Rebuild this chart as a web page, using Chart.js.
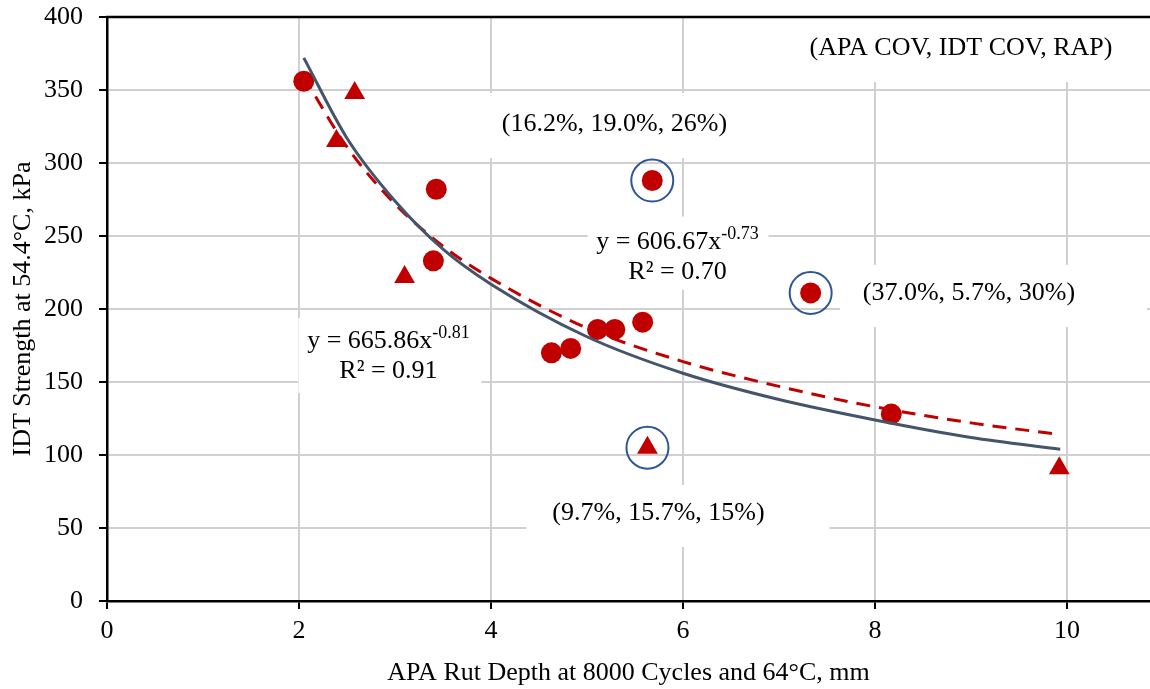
<!DOCTYPE html>
<html>
<head>
<meta charset="utf-8">
<style>
  body { margin: 0; background: #fff; }
  #wrap { width: 1150px; height: 689px; }
</style>
<script src="https://cdn.jsdelivr.net/npm/chart.js@4.4.1/dist/chart.umd.min.js"></script>
</head>
<body>
<div id="wrap"><canvas id="c" width="1150" height="689"></canvas></div>
<script>
// circle markers
var circleX = [2.05, 3.43, 3.40, 4.63, 4.83, 5.11, 5.29, 5.58, 5.68, 7.33, 8.17];
var circleY = [356, 282, 233, 170, 173, 186, 186, 191, 288, 211, 128];
// triangle markers
var triX = [2.58, 2.39, 3.10, 5.63, 9.92];
var triY = [348, 315, 222, 105, 91];
// points ringed in blue (index into circle / triangle lists)
var ringedCircles = [8, 9];
var ringedTris = [3];

// trend curves
var trendX = [2.05, 2.5, 3, 3.5, 4, 5, 6, 7, 8, 9, 9.93];
var trendSolidY = [372, 317, 274, 241, 217, 181, 156, 138, 124, 112, 104];
var trendDashY = [359, 311, 272, 243, 221, 187, 164, 147, 133, 122, 114];

var xTicks = [0, 2, 4, 6, 8, 10];
var xTitle = 'APA Rut Depth at 8000 Cycles and 64\u00B0C, mm';
var yTitle = 'IDT Strength at 54.4\u00B0C, kPa';

function pts(xs, ys) {
  return xs.map(function (x, i) { return { x: x, y: ys[i] }; });
}
var ringPts = ringedCircles.map(function (i) { return { x: circleX[i], y: circleY[i] }; })
  .concat(ringedTris.map(function (i) { return { x: triX[i], y: triY[i] }; }));

var FONT = "'Liberation Serif', 'Times New Roman', serif";

// markers should not push the plot frame inwards
Chart.ScatterController.prototype.getMaxOverflow = function () { return 0; };

// text boxes: anchor in data units (centre x, baseline of first line), box in px around it
var notes = [
  { x: 8.896, y: 374.0, lines: ['(APA COV, IDT COV, RAP)'], box: [-171, -38, 360, 65] },
  { x: 5.286, y: 321.9, lines: ['(16.2%, 19.0%, 26%)'], box: [-150, -38, 300, 65] },
  { x: 8.979, y: 206.2, lines: ['(37.0%, 5.7%, 30%)'], box: [-129, -35, 307, 62] },
  { x: 5.745, y: 55.5, lines: ['(9.7%, 15.7%, 15%)'], box: [-132, -35, 303, 62] },
  { x: 5.943, y: 241.4, eq: ['y = 606.67x', '-0.73'], lines: ['R\u00B2 = 0.70'], box: [-90, -32, 181, 73] },
  { x: 2.932, y: 173.3, eq: ['y = 665.86x', '-0.81'], lines: ['R\u00B2 = 0.91'], box: [-90, -30, 183, 75] }
];

var notesPlugin = {
  id: 'notes',
  beforeDatasetsDraw: function (chart) {
    var ctx = chart.ctx, sx = chart.scales.x, sy = chart.scales.y;
    ctx.save();
    ctx.fillStyle = '#ffffff';
    notes.forEach(function (n) {
      var px = sx.getPixelForValue(n.x), py = sy.getPixelForValue(n.y);
      ctx.fillRect(px + n.box[0], py + n.box[1], n.box[2], n.box[3]);
    });
    ctx.restore();
  },
  afterDatasetsDraw: function (chart) {
    var ctx = chart.ctx, sx = chart.scales.x, sy = chart.scales.y, a = chart.chartArea;
    ctx.save();
    ctx.fillStyle = '#000';
    ctx.textBaseline = 'alphabetic';
    notes.forEach(function (n) {
      var px = sx.getPixelForValue(n.x), py = sy.getPixelForValue(n.y);
      var lineY = py;
      if (n.eq) {
        ctx.font = '26px ' + FONT;
        var w1 = ctx.measureText(n.eq[0]).width;
        ctx.font = '18px ' + FONT;
        var w2 = ctx.measureText(n.eq[1]).width;
        var left = px - (w1 + w2) / 2;
        ctx.textAlign = 'left';
        ctx.font = '26px ' + FONT;
        ctx.fillText(n.eq[0], left, lineY);
        ctx.font = '18px ' + FONT;
        ctx.fillText(n.eq[1], left + w1, lineY - 10);
        lineY += 30;
      }
      ctx.font = '26px ' + FONT;
      ctx.textAlign = 'center';
      n.lines.forEach(function (t) {
        ctx.fillText(t, px, lineY);
        lineY += 30;
      });
    });
    // top frame line
    ctx.strokeStyle = '#000';
    ctx.lineWidth = 2.5;
    ctx.beginPath();
    ctx.moveTo(a.left - 1, a.top);
    ctx.lineTo(a.right, a.top);
    ctx.stroke();
    ctx.restore();
  }
};

new Chart(document.getElementById('c'), {
  type: 'scatter',
  data: {
    datasets: [
      {
        label: 'fit all', data: pts(trendX, trendSolidY), showLine: true,
        borderColor: '#44546A', borderWidth: 3, pointRadius: 0, cubicInterpolationMode: 'monotone'
      },
      {
        label: 'fit circles', data: pts(trendX, trendDashY), showLine: true,
        borderColor: '#C00000', borderWidth: 3, borderDash: [14, 9], pointRadius: 0,
        cubicInterpolationMode: 'monotone'
      },
      {
        label: 'circles', data: pts(circleX, circleY), pointStyle: 'circle',
        pointRadius: 10.5, backgroundColor: '#C00000', borderWidth: 0
      },
      {
        label: 'triangles', data: pts(triX, triY), pointStyle: 'triangle',
        pointRadius: 12, backgroundColor: '#C00000', borderWidth: 0
      },
      {
        label: 'ringed', data: ringPts, pointStyle: 'circle', pointRadius: 21,
        backgroundColor: 'rgba(0,0,0,0)', borderColor: '#2F5597', borderWidth: 2
      }
    ]
  },
  options: {
    responsive: false,
    animation: false,
    layout: { padding: { top: 17, right: 0, left: 0, bottom: 0 } },
    plugins: { legend: { display: false }, tooltip: { enabled: false } },
    scales: {
      x: {
        type: 'linear', min: 0, max: 10.865,
        afterBuildTicks: function (s) {
          s.ticks = xTicks.map(function (v) { return { value: v }; });
        },
        afterFit: function (s) {
          s.height = 88;
          s.paddingLeft = 0; s.paddingRight = 0;
        },
        ticks: { font: { family: FONT, size: 26 }, color: '#000', padding: 7, maxRotation: 0 },
        grid: { color: '#d0d0d0', lineWidth: 2, tickLength: 8, tickColor: '#000', tickWidth: 2 },
        border: { color: '#000', width: 2.5 },
        title: {
          display: true, text: xTitle, color: '#000',
          font: { family: FONT, size: 26 }, padding: { top: 10, bottom: 0 }
        }
      },
      y: {
        min: 0, max: 400,
        afterFit: function (s) {
          s.width = 107;
          s.paddingTop = 0; s.paddingBottom = 0;
        },
        ticks: { stepSize: 50, font: { family: FONT, size: 26 }, color: '#000', padding: 16 },
        grid: { color: '#d0d0d0', lineWidth: 2, tickLength: 8, tickColor: '#000', tickWidth: 2 },
        border: { color: '#000', width: 2.5 },
        title: {
          display: true, text: yTitle, color: '#000',
          font: { family: FONT, size: 26 }, padding: { top: 8, bottom: 0 }
        }
      }
    }
  },
  plugins: [notesPlugin]
});
</script>
</body>
</html>
